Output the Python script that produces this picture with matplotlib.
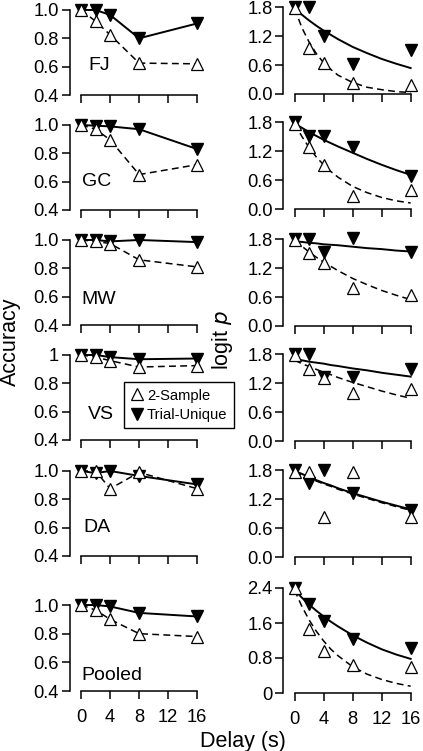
import matplotlib
matplotlib.use('Agg')
import matplotlib.pyplot as plt
from matplotlib.lines import Line2D

plt.rcParams['font.family'] = ['Liberation Sans', 'DejaVu Sans']

# ---------------- data ----------------
delays = [0, 2, 4, 8, 16]
subjects = ['FJ', 'GC', 'MW', 'VS', 'DA', 'Pooled']

# accuracy, 2-sample (open triangles)
acc_2s = [
    [1.00, 0.92, 0.825, 0.625, 0.62],   # FJ
    [1.00, 0.97, 0.895, 0.65, 0.72],    # GC
    [1.00, 0.99, 0.975, 0.86, 0.81],    # MW
    [1.00, 0.985, 0.96, 0.915, 0.925],  # VS
    [1.00, 1.00, 0.875, 0.99, 0.875],   # DA
    [1.00, 0.965, 0.90, 0.80, 0.78],    # Pooled
]
# accuracy, trial-unique (filled triangles)
acc_tu = [
    [1.00, 1.00, 0.965, 0.80, 0.905],
    [1.00, 0.995, 0.99, 0.97, 0.83],
    [1.00, 1.00, 0.99, 1.00, 0.985],
    [1.00, 1.00, 0.985, 0.97, 0.975],
    [1.00, 0.985, 1.00, 0.965, 0.905],
    [1.00, 1.00, 0.99, 0.945, 0.92],
]
# logit p, 2-sample
logit_2s = [
    [1.78, 0.95, 0.64, 0.23, 0.19],
    [1.77, 1.29, 0.92, 0.28, 0.39],
    [1.79, 1.51, 1.32, 0.80, 0.64],
    [1.78, 1.50, 1.31, 1.00, 1.09],
    [1.77, 1.77, 0.83, 1.77, 0.84],
    [2.40, 1.47, 0.97, 0.63, 0.59],
]
# logit p, trial-unique
logit_tu = [
    [1.80, 1.82, 1.20, 0.62, 0.92],
    [1.80, 1.51, 1.51, 1.30, 0.69],
    [1.80, 1.82, 1.53, 1.83, 1.54],
    [1.80, 1.80, 1.34, 1.34, 1.50],
    [1.80, 1.53, 1.80, 1.34, 0.97],
    [2.40, 2.04, 1.64, 1.24, 1.04],
]
# fitted curves
fit_x = [0, 1, 2, 3, 4, 5, 6, 8, 10, 12, 14, 16]
fit_2s = [
    [1.78, 1.38, 1.08, 0.84, 0.65, 0.51, 0.39, 0.24, 0.14, 0.09, 0.05, 0.03],
    [1.78, 1.51, 1.28, 1.08, 0.92, 0.78, 0.66, 0.47, 0.34, 0.24, 0.17, 0.125],
    [1.78, 1.66, 1.54, 1.43, 1.33, 1.24, 1.15, 0.99, 0.86, 0.74, 0.64, 0.55],
    [1.68, 1.61, 1.55, 1.49, 1.43, 1.38, 1.32, 1.22, 1.13, 1.04, 0.96, 0.89],
    [1.76, 1.70, 1.64, 1.58, 1.52, 1.47, 1.41, 1.31, 1.22, 1.13, 1.05, 0.97],
    [2.35, 1.98, 1.67, 1.41, 1.19, 1.00, 0.85, 0.60, 0.43, 0.31, 0.22, 0.155],
]
fit_tu = [
    [1.78, 1.65, 1.53, 1.42, 1.32, 1.23, 1.14, 0.98, 0.85, 0.73, 0.63, 0.54],
    [1.78, 1.69, 1.60, 1.52, 1.44, 1.37, 1.30, 1.17, 1.04, 0.92, 0.81, 0.71],
    [1.76, 1.75, 1.73, 1.72, 1.70, 1.69, 1.68, 1.65, 1.62, 1.60, 1.57, 1.55],
    [1.70, 1.68, 1.65, 1.63, 1.61, 1.58, 1.56, 1.51, 1.47, 1.42, 1.38, 1.34],
    [1.79, 1.73, 1.66, 1.60, 1.54, 1.49, 1.43, 1.33, 1.24, 1.15, 1.07, 0.99],
    [2.35, 2.18, 2.02, 1.88, 1.75, 1.63, 1.52, 1.32, 1.15, 1.00, 0.88, 0.78],
]
xticks = [0, 4, 8, 12, 16]
acc_ticks = [0.4, 0.6, 0.8, 1.0]
logit_ticks = [0.0, 0.6, 1.2, 1.8]
logit_ticks_pooled = [0.0, 0.8, 1.6, 2.4]

# ---------------- layout ----------------
W, H = 423, 751
fig = plt.figure(figsize=(W / 100, H / 100), dpi=100)

def add_ax(left, bottom, width, height):
    return fig.add_axes([left / W, 1 - bottom / H, width / W, height / H])

XLIM = (-1.6, 16.6)
AXW = 132
left_bottoms = [95, 210, 325, 440, 556, 691]
right_bottoms = [94, 209, 326, 441, 557, 693]
label_pos = [(1.0, 0.605), (0.1, 0.60), (0.1, 0.58), (1.0, 0.58), (0.3, 0.60), (0.1, 0.51)]

FS_TICK = 13.2
ms = 9
lw_solid = 1.4
dash = (0, (4.5, 2.8))

def style(ax, ybounds, yticks, yticklabels, bottom_row):
    for s in ['top', 'right']:
        ax.spines[s].set_visible(False)
    for s in ['left', 'bottom']:
        ax.spines[s].set_linewidth(1.1)
    ax.spines['left'].set_bounds(*ybounds)
    ax.spines['bottom'].set_bounds(0, 16)
    ax.set_xlim(*XLIM)
    ax.set_xticks(xticks)
    ax.set_yticks(yticks)
    ax.set_yticklabels(yticklabels)
    ax.tick_params(direction='out', length=6, width=1.1, labelsize=FS_TICK, pad=1.5)
    ax.tick_params(axis='x', pad=7)
    if bottom_row:
        ax.set_xticklabels([str(t) for t in xticks])
    else:
        ax.set_xticklabels([])
    ax.patch.set_visible(False)

for i, subj in enumerate(subjects):
    pooled = subj == 'Pooled'
    # ---- accuracy panel
    ppu = 143.3 if pooled else 141.7
    ax = add_ax(69.5, left_bottoms[i], AXW, 0.64 * ppu)
    ax.set_ylim(0.4, 1.04)
    ax.plot(delays, acc_tu[i], '-', color='black', lw=lw_solid, marker='v', ms=ms,
            mfc='black', mec='black', clip_on=False, zorder=3)
    ax.plot(delays, acc_2s[i], color='black', lw=1.1, ls=dash, marker='^', ms=ms,
            mfc='white', mec='black', mew=0.9, clip_on=False, zorder=4)
    labs = ['0.4', '0.6', '0.8', '1' if subj == 'VS' else '1.0']
    style(ax, (0.4, 1.0), acc_ticks, labs, pooled)
    ax.text(label_pos[i][0], label_pos[i][1], subj, fontsize=14, ha='left', va='center')

    # ---- logit panel
    if pooled:
        ax2 = add_ax(283, right_bottoms[i], AXW, 2.5 * 43.75)
        ax2.set_ylim(0, 2.5)
        yt = logit_ticks_pooled
        ylabs = ['0', '0.8', '1.6', '2.4']
        yb = (0, 2.4)
    else:
        ax2 = add_ax(283, right_bottoms[i], AXW, 1.88 * 48.06)
        ax2.set_ylim(0, 1.88)
        yt = logit_ticks
        ylabs = ['0.0', '0.6', '1.2', '1.8']
        yb = (0, 1.8)
    ax2.plot(fit_x, fit_tu[i], '-', color='black', lw=lw_solid, zorder=2)
    ax2.plot(fit_x, fit_2s[i], color='black', lw=1.1, ls=dash, zorder=2)
    ax2.plot(delays, logit_tu[i], 'v', ms=ms, mfc='black', mec='black',
             clip_on=False, zorder=3)
    ax2.plot(delays, logit_2s[i], '^', ms=ms, mfc='white', mec='black', mew=0.9,
             clip_on=False, zorder=4)
    style(ax2, yb, yt, ylabs, pooled)

# axis titles
fig.text(10 / W, 1 - 342 / H, 'Accuracy', rotation=90, ha='center', va='center', fontsize=15.5)
fig.text(222 / W, 1 - 340 / H, r'logit $\it{p}$', rotation=90, ha='center', va='center', fontsize=15.5)
fig.text(243 / W, 1 - 741 / H, 'Delay (s)', ha='center', va='center', fontsize=15.5)

# legend
handles = [
    Line2D([], [], ls='none', marker='^', ms=ms, mfc='white', mec='black', mew=0.9),
    Line2D([], [], ls='none', marker='v', ms=ms, mfc='black', mec='black'),
]
leg = fig.legend(handles, ['2-Sample', 'Trial-Unique'], loc='upper left',
                 bbox_to_anchor=(124 / W, 1 - 382 / H), fontsize=10.6,
                 frameon=True, fancybox=False, edgecolor='black', framealpha=1,
                 handlelength=0.8, handletextpad=0.3, borderpad=0.45,
                 labelspacing=0.35, borderaxespad=0)
leg.get_frame().set_linewidth(1.0)

fig.savefig('out.png', dpi=100)
